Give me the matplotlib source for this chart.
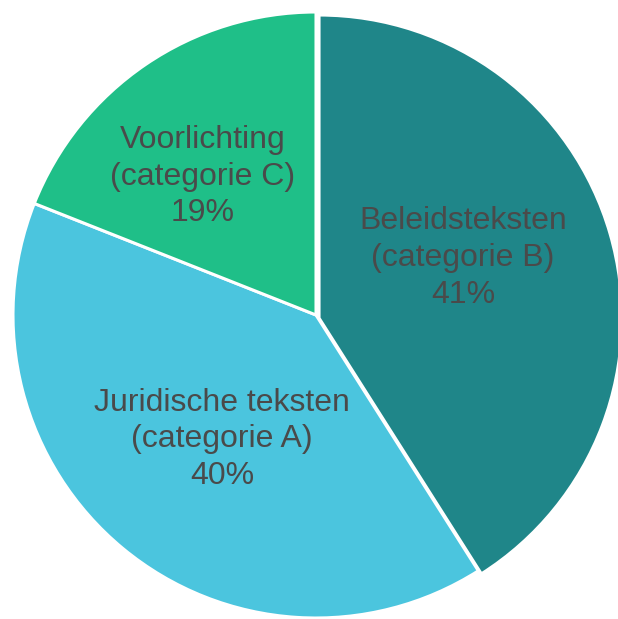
import matplotlib
matplotlib.use("Agg")
import matplotlib.pyplot as plt

categories = ["Beleidsteksten\n(categorie B)", "Juridische teksten\n(categorie A)", "Voorlichting\n(categorie C)"]
values = [41, 40, 19]
colors = ["#1F8689", "#4BC5DE", "#1FBF88"]

plt.rcParams['font.family'] = ['Liberation Sans', 'DejaVu Sans']

fig = plt.figure(figsize=(6.18, 6.19), dpi=100)
ax = fig.add_axes([0, 0, 1, 1])
wedges, _ = ax.pie(values, colors=colors, startangle=90, counterclock=False,
                   radius=1.0, wedgeprops=dict(edgecolor="white", linewidth=2.2))
# slight offset of the first slice as in the reference
wedges[0].set_center((0.01, -0.01))

label_pos = [(0.485, 0.188), (-0.31, -0.41), (-0.373, 0.457)]
for lab, v, (x, y) in zip(categories, values, label_pos):
    ax.text(x, y, f"{lab}\n{v}%", ha="center", va="center", fontsize=23,
            color="#4A4A4A", linespacing=1.29)

ax.set_xlim(-316/303, (618-316)/303)
ax.set_ylim(-(619-315)/303, 315/303)
ax.set_aspect("auto")
ax.axis("off")
fig.savefig("out.png", dpi=100)
